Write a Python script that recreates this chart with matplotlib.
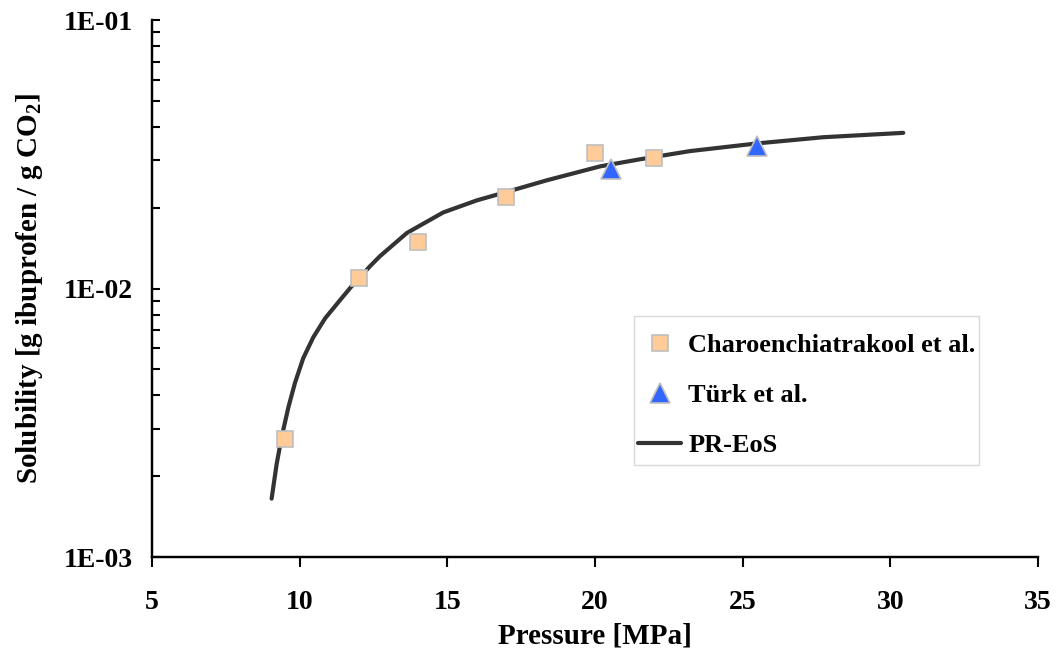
import math

import matplotlib
matplotlib.use('Agg')
import matplotlib.pyplot as plt
from matplotlib.patches import Rectangle
from matplotlib.ticker import FixedLocator, FuncFormatter, LogLocator, NullFormatter

plt.rcParams['font.family'] = ['Liberation Serif', 'DejaVu Serif']
plt.rcParams['font.weight'] = 'bold'
plt.rcParams['mathtext.fontset'] = 'custom'
plt.rcParams['mathtext.rm'] = 'Liberation Serif:bold'
plt.rcParams['mathtext.bf'] = 'Liberation Serif:bold'

# Charoenchiatrakool et al. (experimental)
char_p = [9.5, 12.0, 14.0, 17.0, 20.0, 22.0]
char_s = [2.75e-3, 1.09e-2, 1.49e-2, 2.19e-2, 3.20e-2, 3.06e-2]

# Tuerk et al. (experimental)
turk_p = [20.55, 25.5]
turk_s = [2.78e-2, 3.40e-2]

# PR-EoS model curve
eos_p = [9.05, 9.22, 9.39, 9.62, 9.84, 10.12, 10.46, 10.86, 11.37, 11.76, 12.38,
         12.72, 13.63, 14.86, 16.0, 17.01, 18.37, 20.17, 21.53, 23.22, 25.48,
         27.73, 30.44]
eos_s = [1.65e-3, 2.22e-3, 2.80e-3, 3.62e-3, 4.45e-3, 5.50e-3, 6.58e-3, 7.74e-3,
         9.06e-3, 1.02e-2, 1.21e-2, 1.32e-2, 1.61e-2, 1.92e-2, 2.13e-2, 2.29e-2,
         2.53e-2, 2.85e-2, 3.03e-2, 3.25e-2, 3.47e-2, 3.66e-2, 3.80e-2]

x_ticks = [5, 10, 15, 20, 25, 30, 35]
y_ticks = [1e-3, 1e-2, 1e-1]

fig = plt.figure(figsize=(10.58, 6.48), dpi=100)
ax = fig.add_axes([0.1437, 0.1404, 0.8373, 0.8287])

ax.plot(eos_p, eos_s, color='#333333', lw=3, solid_capstyle='round',
        solid_joinstyle='round', label='PR-EoS', zorder=2)
ax.plot(char_p, char_s, ls='none', marker='s', ms=11.5, mfc='#FFCC99',
        mec='#BFBFBF', mew=1.2, label='Charoenchiatrakool et al.', zorder=3)
ax.plot(turk_p, turk_s, ls='none', marker='^', ms=14, mfc='#3366FF',
        mec='#BFBFBF', mew=1.2, label='Türk et al.', zorder=3)

ax.set_yscale('log')
ax.set_xlim(5, 35)
ax.set_ylim(1e-3, 1e-1)
ax.xaxis.set_major_locator(FixedLocator(x_ticks))
ax.yaxis.set_major_locator(FixedLocator(y_ticks))
ax.yaxis.set_minor_locator(LogLocator(base=10, subs=range(2, 10)))
ax.yaxis.set_minor_formatter(NullFormatter())
ax.yaxis.set_major_formatter(FuncFormatter(lambda v, pos: '1E-%02d' % round(-math.log10(v))))

for s in ['top', 'right']:
    ax.spines[s].set_visible(False)
for s in ['left', 'bottom']:
    ax.spines[s].set_linewidth(1.75)

ax.tick_params(axis='x', direction='out', length=7, width=1.5, labelsize=20, pad=17)
ax.tick_params(axis='y', which='major', direction='in', length=6, width=1.5, labelsize=20, pad=14)
ax.tick_params(axis='y', which='minor', direction='in', length=6, width=1.5)

ax.set_xlabel('Pressure [MPa]', fontsize=21, fontweight='bold', labelpad=5)
ax.set_ylabel(r'Solubility [g ibuprofen / g CO$_{\mathbf{2}}$]', fontsize=21,
              fontweight='bold', labelpad=13)

# legend frame drawn separately to match the box size
ax.add_patch(Rectangle((0.544, 0.1713), 0.389, 0.2775, transform=ax.transAxes,
                       fill=False, ec='#D9D9D9', lw=1.0, zorder=4))

handles, labels = ax.get_legend_handles_labels()
order = [1, 2, 0]
leg = ax.legend([handles[i] for i in order], [labels[i] for i in order],
                loc='upper left', bbox_to_anchor=(0.5485, 0.416), fontsize=19,
                frameon=False, labelspacing=1.0, handlelength=1.65,
                handletextpad=0.25, borderpad=0, borderaxespad=0)

fig.savefig('out.png', dpi=100)
